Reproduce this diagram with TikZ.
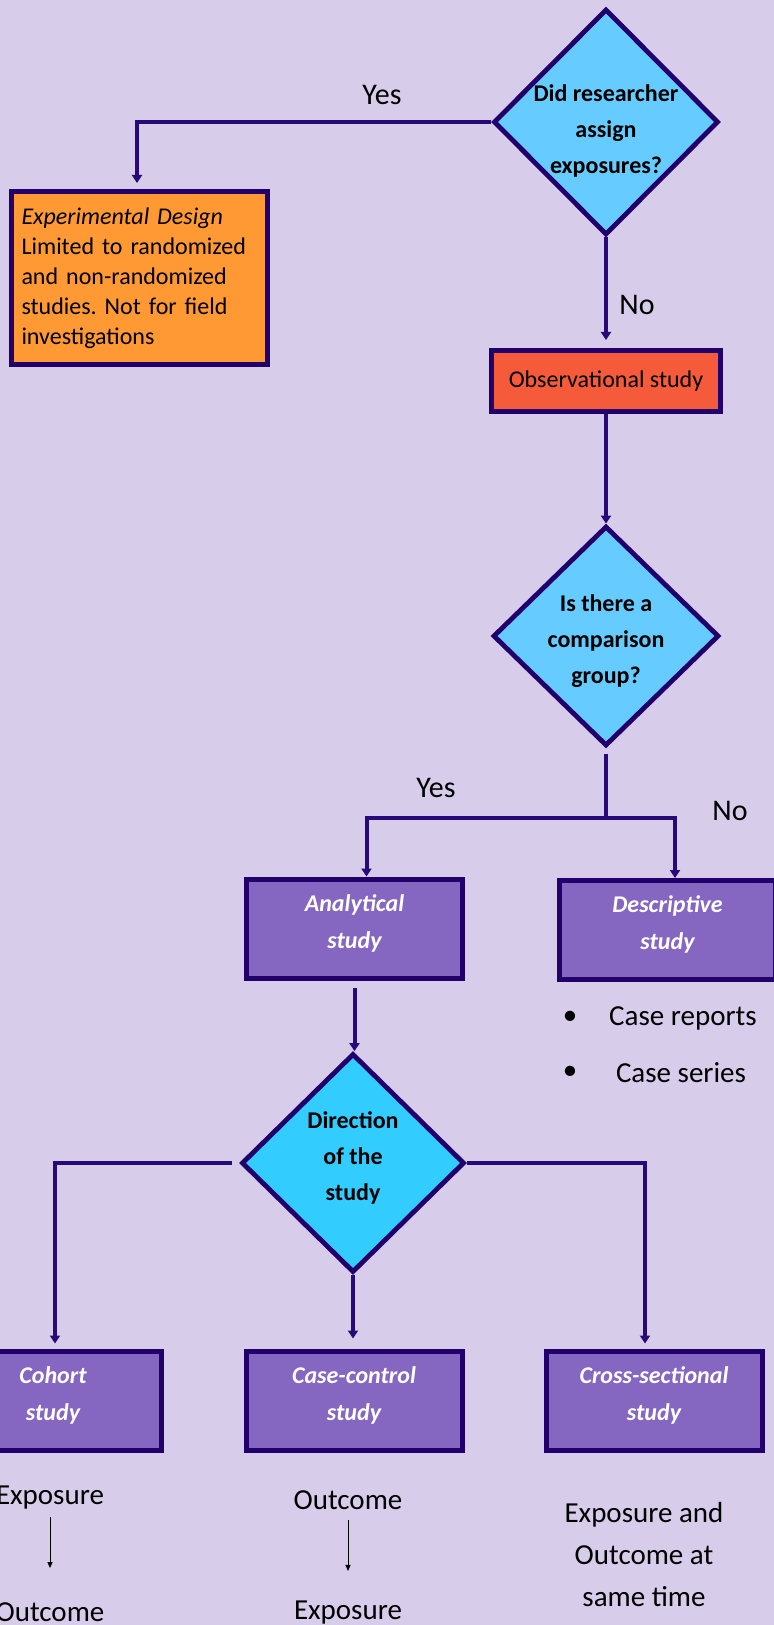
\documentclass[tikz,border=0pt]{standalone}
\usepackage{fontspec}
\setmainfont{Carlito}
\usetikzlibrary{shapes.geometric, arrows.meta, positioning}

\definecolor{bgcol}{HTML}{D8CCEB}
\definecolor{edgecol}{HTML}{21006B}
\definecolor{linecol}{HTML}{270A78}
\definecolor{qcolA}{HTML}{66CCFF}
\definecolor{qcolB}{HTML}{33CCFF}
\definecolor{expcol}{HTML}{FF9933}
\definecolor{obscol}{HTML}{F55B3B}
\definecolor{studycol}{HTML}{8566C1}

\begin{document}
\begin{tikzpicture}[x=0.5pt, y=-0.5pt,
    decision/.style={diamond, draw=edgecol, line width=2.4pt, inner sep=0pt},
    qtext/.style={font=\bfseries\fontsize{12}{18}\selectfont, align=center, inner sep=0pt},
    box/.style={rectangle, draw=edgecol, line width=2.5pt},
    studybox/.style={box, fill=studycol, minimum width=108pt, minimum height=49.5pt, text depth=7pt, text=white, font=\bfseries\itshape\fontsize{12}{18.5}\selectfont, align=center},
    conn/.style={draw=linecol, line width=2pt},
    arrowconn/.style={conn, -{Triangle[length=4pt,width=5pt]}},
    lbl/.style={font=\fontsize{15}{18}\selectfont, inner sep=0pt},
    note/.style={font=\fontsize{14.5}{21}\selectfont, align=center, inner sep=0pt},
    thinarrow/.style={black, line width=0.5pt, -{Triangle[length=3pt,width=2.5pt]}}
]
    \useasboundingbox (0,0) rectangle (774,1625);
    \fill[bgcol] (0,0) rectangle (774,1625);

    % Draw nodes
    \node[decision, fill=qcolA, minimum width=112.5pt, minimum height=113pt] (assign) at (606,122) {};
    \node[qtext] (assign-q) at (606,131) {Did researcher\\assign\\exposures?};
    \node[box, fill=expcol, minimum width=128pt, minimum height=86.5pt, text width=118pt, align=left, inner sep=4pt, font=\frenchspacing\fontsize{12}{15}\selectfont] (experimental) at (139.5,278) {\textit{Experimental Design}\\Limited to randomized\\and non-randomized\\studies. Not for field\\investigations};
    \node[box, fill=obscol, minimum width=114.5pt, minimum height=30.5pt, font=\fontsize{12}{14}\selectfont] (observational) at (606,381) {Observational study};

    \node[decision, fill=qcolA, minimum width=113pt, minimum height=110pt] (comparison) at (606,636) {};
    \node[qtext] (comparison-q) at (606,641) {Is there a\\comparison\\group?};

    \node[studybox] (analytical) at (354.5,928.5) {Analytical\\study};
    \node[studybox] (descriptive) at (667.5,930) {Descriptive\\study};
    \node[note] (bullet-a) at (570,1018) {\textbullet};
    \node[note] (reports) at (683,1018) {Case reports};
    \node[note] (bullet-b) at (570,1073) {\textbullet};
    \node[note] (series) at (681,1073) {Case series};

    \node[decision, fill=qcolB, minimum width=111.5pt, minimum height=109.5pt] (direction) at (353,1163) {};
    \node[qtext] (direction-q) at (353,1158) {Direction\\of the\\study};

    \node[studybox] (cohort) at (53,1400.5) {Cohort\\study};
    \node[studybox] (casecontrol) at (354,1400.5) {Case-control\\study};
    \node[studybox] (crosssec) at (654,1400.5) {Cross-sectional\\study};

    \node[note] (cohort-exp) at (50,1498) {Exposure};
    \node[note] (cohort-out) at (50,1612) {Outcome};
    \node[note] (cc-out) at (348,1500) {Outcome};
    \node[note] (cc-exp) at (348,1613) {Exposure};
    \node[note] (cs-both) at (644,1555) {Exposure and\\Outcome at\\same time};

    % Draw connections
    \draw[arrowconn] (assign.west) -| ([xshift=-1.25pt, yshift=3pt]experimental.north);
    \draw[arrowconn, shorten >=4pt] (assign.south) -- (observational.north);
    \draw[arrowconn] (observational.south) -- (comparison.north);
    \coordinate (fork) at (606,818);
    \draw[conn, shorten <=3pt] (comparison.south) -- (fork);
    \draw[arrowconn] (fork) -| ([xshift=6pt]analytical.north);
    \draw[arrowconn] (fork) -| ([xshift=3.75pt]descriptive.north);
    \draw[arrowconn, shorten <=3.5pt] (analytical.south) -- (analytical.south |- direction.north);
    \draw[arrowconn, shorten <=3.5pt, shorten >=2.5pt] (direction.west) -| ([xshift=1pt]cohort.north);
    \draw[arrowconn, shorten >=5pt] (direction.south) -- (direction.south |- casecontrol.north);
    \draw[arrowconn, shorten >=2.5pt] (direction.east) -| ([xshift=-4.5pt]crosssec.north);
    \draw[thinarrow, shorten <=3.5pt, shorten >=17pt] (cohort-exp) -- (cohort-out);
    \draw[thinarrow, shorten <=5pt, shorten >=15pt] (cc-out) -- (cc-exp);

    % Labels
    \node[lbl] (yes-a) at (382,95) {Yes};
    \node[lbl] (no-a) at (637,305) {No};
    \node[lbl] (yes-b) at (436,788) {Yes};
    \node[lbl] (no-b) at (730,811) {No};
\end{tikzpicture}
\end{document}
